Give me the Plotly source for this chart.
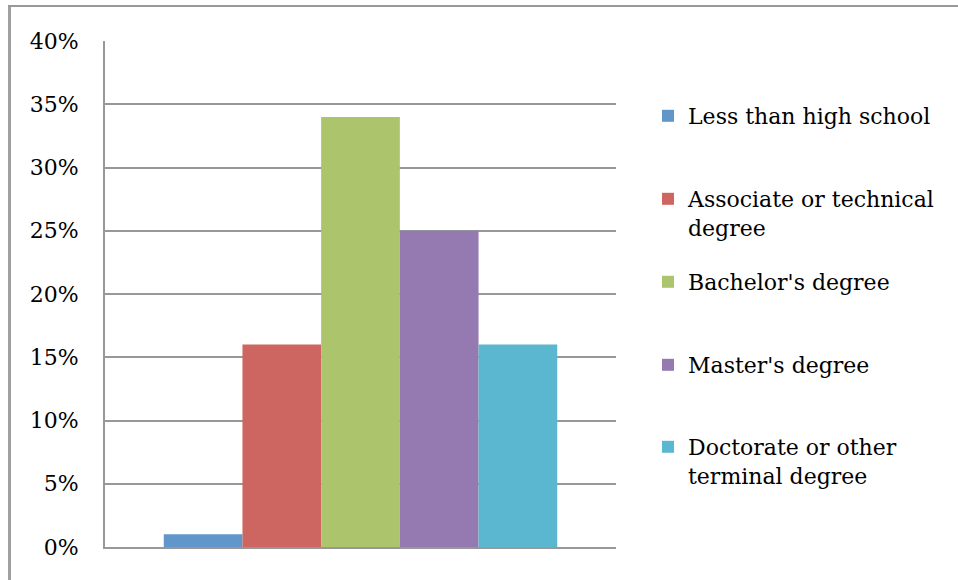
import plotly.graph_objects as go

# Share of respondents by highest level of education
categories = ["Education"]
series_names = [
    "Less than high school",
    "Associate or technical<br>degree",
    "Bachelor's degree",
    "Master's degree",
    "Doctorate or other<br>terminal degree",
]
series_values = [0.01, 0.16, 0.34, 0.25, 0.16]
series_colors = ["#6096C9", "#CD6560", "#ACC46C", "#957AB1", "#5BB7D0"]
y_ticks = [0, 0.05, 0.10, 0.15, 0.20, 0.25, 0.30, 0.35, 0.40]

W, H = 958, 580
ML, MR, MT, MB = 105, 342, 41, 33
PW, PH = W - ML - MR, H - MT - MB

FONT = "DejaVu Serif"
FS = 22
GRID = "#989898"

def px_to_paper_x(px):
    return (px - ML) / PW

def px_to_paper_y(py):
    return (H - MB - py) / PH

fig = go.Figure()
legend_tops = [95, 178, 261, 344, 426]
for i, (name, val, col) in enumerate(zip(series_names, series_values, series_colors)):
    key = "legend" if i == 0 else f"legend{i + 1}"
    fig.add_trace(go.Bar(
        x=categories, y=[val], name=name,
        marker=dict(color=col, line=dict(width=0)),
        legend=key,
    ))

legend_cfg = {}
for i, top in enumerate(legend_tops):
    key = "legend" if i == 0 else f"legend{i + 1}"
    legend_cfg[key] = dict(
        x=px_to_paper_x(648), xanchor="left",
        y=px_to_paper_y(top), yanchor="top",
        font=dict(family=FONT, size=FS, color="#000000"),
        bgcolor="rgba(0,0,0,0)", borderwidth=0,
        valign="top", itemclick=False,
    )

# Chart-area frame (left and top edges)
shapes = [
    dict(type="line", xref="paper", yref="paper",
         x0=px_to_paper_x(9.5), x1=px_to_paper_x(9.5),
         y0=px_to_paper_y(5), y1=px_to_paper_y(H + 2),
         line=dict(color="#A0A0A0", width=3)),
    dict(type="line", xref="paper", yref="paper",
         x0=px_to_paper_x(8), x1=px_to_paper_x(W + 2),
         y0=px_to_paper_y(6), y1=px_to_paper_y(6),
         line=dict(color="#999999", width=2)),
]

fig.update_layout(
    width=W, height=H,
    margin=dict(l=ML, r=MR, t=MT, b=MB, pad=0),
    paper_bgcolor="white", plot_bgcolor="white",
    barmode="group", bargap=0.23, bargroupgap=0,
    showlegend=True,
    shapes=shapes,
    font=dict(family=FONT, size=FS, color="#000000"),
    **legend_cfg,
)
fig.update_xaxes(
    showticklabels=False, ticks="", showgrid=False,
    showline=True, linecolor=GRID, linewidth=2,
    zeroline=False, range=[-0.5, 0.5],
)
fig.update_yaxes(
    range=[0, 0.40], tickvals=y_ticks, tickformat=".0%",
    showgrid=True, gridcolor=GRID, gridwidth=2,
    showline=True, linecolor=GRID, linewidth=2,
    zeroline=False, ticks="", ticklabelstandoff=20,
    tickfont=dict(family=FONT, size=FS, color="#000000"),
)

fig.write_html("out.html")
